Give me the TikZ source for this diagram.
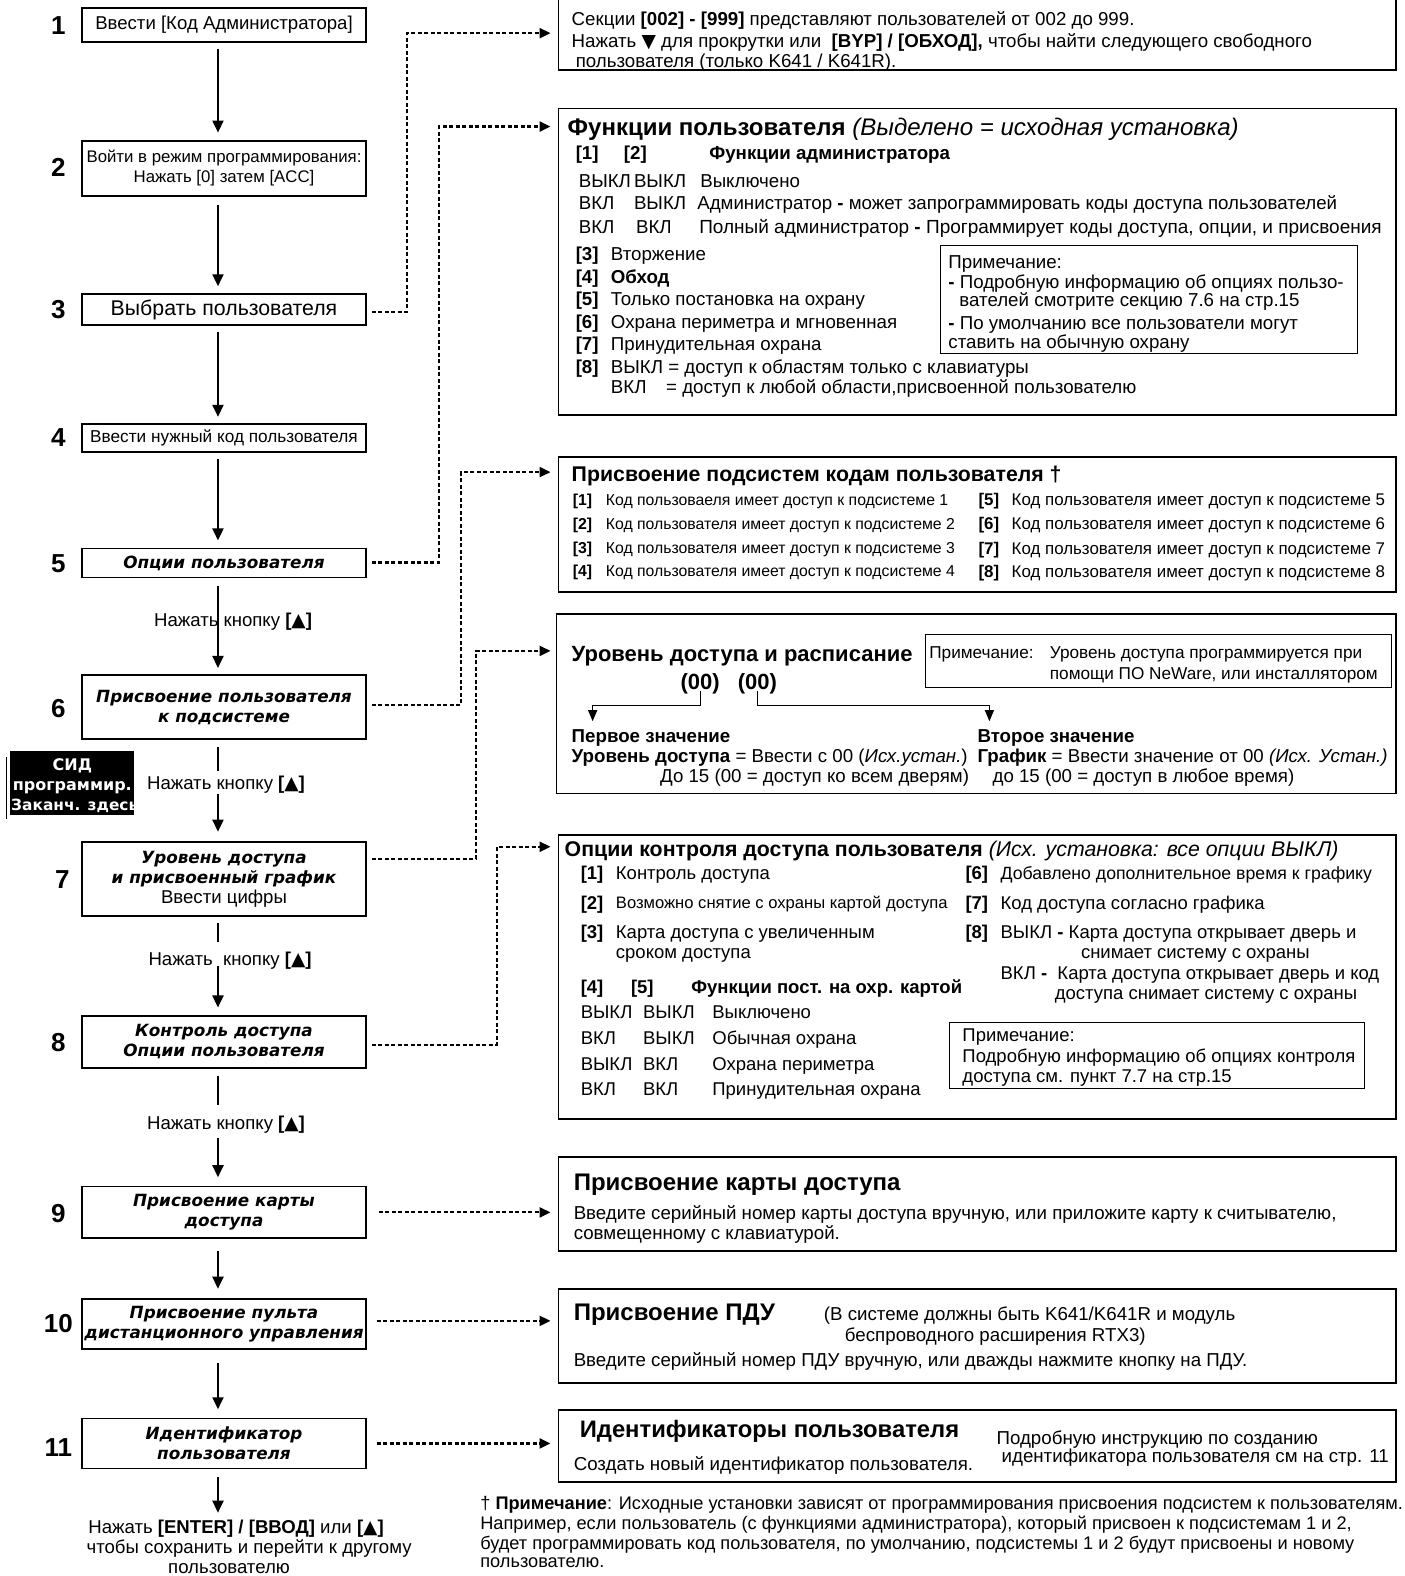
\documentclass[tikz,border=0pt]{standalone}
\usepackage{fontspec}
\setmainfont{Liberation Sans}
\newfontfamily\vfont{DejaVu Sans}
\usetikzlibrary{arrows.meta,fit}
\newcommand\fsz[2]{\fontsize{#1}{#2}\selectfont}
\newcommand\vbi{\vfont\bfseries\itshape\fsz{16.8}{20}}
\newcommand\vup{\normalfont\fsz{18.6}{20}}
\newcommand\tri{{\vfont\mdseries ▲}}
\newcommand\dtri{{\vfont ▼}}
\tikzset{
  stepbox/.style={draw, line width=1.8pt, minimum width=284pt, align=center, inner sep=0pt, font=\fsz{16.8}{20}},
  infobox/.style={draw, line width=1.9pt, inner sep=0pt},
  notebox/.style={draw, line width=0.9pt, inner sep=0pt},
  num/.style={font=\bfseries\fsz{26}{26}, inner sep=0pt},
  bw/.style={anchor=base west, inner sep=0pt},
  t/.style={bw, font=\fsz{18.7}{22}, yshift=-6.2pt},
  tb/.style={bw, font=\bfseries\fsz{18.7}{22}, yshift=-6.2pt},
  tc/.style={anchor=base, inner sep=0pt, font=\fsz{18.6}{22}, yshift=-6.1pt},
  ts/.style={bw, font=\fsz{15.8}{20}, yshift=-5.2pt},
  tsb/.style={bw, font=\bfseries\fsz{15.8}{20}, yshift=-5.2pt},
  tr/.style={bw, font=\fsz{16.9}{20}, yshift=-5.6pt},
  trb/.style={bw, font=\bfseries\fsz{16.9}{20}, yshift=-5.6pt},
  te/.style={bw, font=\fsz{18.5}{22}, yshift=-6.1pt},
  teb/.style={bw, font=\bfseries\fsz{18.5}{22}, yshift=-6.1pt},
  fn/.style={bw, font=\fsz{18.2}{22}, yshift=-6pt},
  ttl/.style={bw, font=\bfseries\fsz{24}{26}, yshift=-8pt},
  sidtxt/.style={text=white, font=\vfont\bfseries\fsz{16}{20}, inner sep=0pt},
  flow/.style={line width=2pt, -{Triangle[width=11pt,length=12pt]}},
  plain/.style={line width=2pt},
  dotarrow/.style={line width=2.2pt, dash pattern=on 4pt off 2.5pt, -{Triangle[width=10pt,length=11pt]}, shorten >=7pt},
  thinarrow/.style={line width=1.2pt, -{Triangle[width=9pt,length=11pt]}}
}
\begin{document}
\begin{tikzpicture}[x=1.0045pt,y=-1.0045pt]
\useasboundingbox (0,0) rectangle (1398.7,1569);

% ---------- step numbers ----------
\node[num] (n1) at (58,25) {1};
\node[num] (n2) at (58,167) {2};
\node[num] (n3) at (58,308) {3};
\node[num] (n4) at (58,436) {4};
\node[num] (n5) at (58,561) {5};
\node[num] (n6) at (58,705) {6};
\node[num] (n7) at (62,876) {7};
\node[num] (n8) at (58,1038) {8};
\node[num] (n9) at (58,1208) {9};
\node[num] (n10) at (58,1318) {10};
\node[num] (n11) at (58,1441) {11};

% ---------- step boxes ----------
\node[stepbox, minimum height=34pt, font=\fsz{18.6}{20}] (s1) at (223,25) {Ввести [Код Администратора]};
\node[stepbox, minimum height=55pt] (s2) at (223,167.5) {Войти в режим программирования:\\Нажать [0] затем [ACC]};
\node[stepbox, minimum height=31pt, font=\fsz{21.3}{22}] (s3) at (223,308.5) {Выбрать пользователя};
\node[stepbox, minimum height=28pt, font=\fsz{17.2}{20}] (s4) at (223,436) {Ввести нужный код пользователя};
\node[stepbox, minimum height=29pt] (s5) at (223,560.5) {\vbi Опции пользователя};
\node[stepbox, minimum height=64pt] (s6) at (223,704) {\vbi Присвоение пользователя\\\vbi к подсистеме};
\node[stepbox, minimum height=74pt] (s7) at (223,875) {\vbi Уровень доступа\\\vbi и присвоенный график\\\vup Ввести цифры};
\node[stepbox, minimum height=52pt] (s8) at (223,1037) {\vbi Контроль доступа\\\vbi Опции пользователя};
\node[stepbox, minimum height=52pt] (s9) at (223,1207) {\vbi Присвоение карты\\\vbi доступа};
\node[stepbox, minimum height=50pt] (s10) at (223,1318) {\vbi Присвоение пульта\\\vbi дистанционного управления};
\node[stepbox, minimum height=50pt] (s11) at (223,1437) {\vbi Идентификатор\\\vbi пользователя};

% ---------- flow arrows ----------
\draw[flow] (s1.south -| 217,0) ++(0,6) -- (217,132);
\draw[flow] (s2.south -| 217,0) ++(0,8) -- (217,285);
\draw[flow] (s3.south -| 217,0) ++(0,6) -- (217,415);
\draw[flow] (s4.south -| 217,0) ++(0,6) -- (217,538);
\draw[flow] (s5.south -| 217,0) ++(0,8) -- (217,665);
\node[tc] (l5) at (232,618) {Нажать кнопку \textbf{[\tri]}};
\draw[plain] (s6.south -| 217,0) ++(0,7) -- (217,768);
\node[tc] (l6) at (225,780) {Нажать кнопку \textbf{[\tri]}};
\draw[flow] (217,790) -- (217,828);
\draw[plain] (s7.south -| 217,0) ++(0,6) -- (217,938);
\node[tc] (l7) at (229,955) {Нажать \ кнопку \textbf{[\tri]}};
\draw[flow] (217,962) -- (217,1003);
\draw[plain] (s8.south -| 217,0) ++(0,7) -- (217,1100);
\node[tc] (l8) at (225,1118) {Нажать кнопку \textbf{[\tri]}};
\draw[flow] (217,1133) -- (217,1172);
\draw[flow] (s9.south -| 217,0) ++(0,12) -- (217,1283);
\draw[flow] (s10.south -| 217,0) ++(0,13) -- (217,1403);
\coordinate (endtxt) at (217,1506);
\draw[flow] (s11.south -| 217,0) ++(0,8) -- (endtxt);
\node[tc] (fin1) at (235,1521) {Нажать \textbf{[ENTER] / [ВВОД]} или \textbf{[\tri]}};
\node[tc] (fin2) at (248,1541) {чтобы сохранить и перейти к другому};
\node[tc] (fin3) at (228,1560) {пользователю};

% ---------- LED box ----------
\node[fill=black, minimum width=124pt, minimum height=64pt, inner sep=0pt] (sid) at (72,780) {};
\node[sidtxt, anchor=base] (sid1) at (72,767) {СИД};
\node[sidtxt, anchor=base] (sid2) at (72,787) {программир.};
\node[sidtxt, anchor=base west, font=\vfont\bfseries\fsz{15.4}{20}] (sid3) at (11,807) {Заканч. здесь};
\draw[line width=1pt] (6,754) -- (6,815);

% ---------- right boxes ----------
\node[infobox, fit={(556,-3) (1390,70)}] (A) {};
\node[infobox, fit={(556,108) (1390,413)}] (B) {};
\node[infobox, fit={(556,455) (1390,589)}] (C) {};
\node[infobox, fit={(554,611) (1390,790)}] (D) {};
\node[infobox, fit={(556,831) (1390,1114)}] (E) {};
\node[infobox, fit={(556,1152) (1390,1245)}] (F) {};
\node[infobox, fit={(556,1283) (1390,1377)}] (G) {};
\node[infobox, fit={(556,1404) (1390,1475)}] (H) {};

% ---------- dotted connectors ----------
\draw[dotarrow] (s3.east |- 0,311) ++(5,0) -| (405,33) -- (A.west |- 0,33);
\draw[dotarrow] (s5.east |- 0,560) ++(5,0) -| (437,126) -- (B.west |- 0,126);
\draw[dotarrow] (s6.east |- 0,702) ++(5,0) -| (459,470) -- (C.west |- 0,470);
\draw[dotarrow, shorten >=5pt] (s7.east |- 0,855) ++(5,0) -| (474,648) -- (D.west |- 0,648);
\draw[dotarrow] (s8.east |- 0,1040) ++(5,0) -| (495,843) -- (E.west |- 0,843);
\draw[dotarrow] (s9.east |- 0,1207) ++(12,0) -- (F.west |- 0,1207);
\draw[dotarrow] (s10.east |- 0,1315) ++(10,0) -- (G.west |- 0,1315);
\draw[dotarrow] (s11.east |- 0,1437) ++(10,0) -- (H.west |- 0,1437);

% ---------- A ----------
\node[t] (a1) at (569,19) {Секции \textbf{[002] - [999]} представляют пользователей от 002 до 999.};
\node[t] (a2) at (569,41) {Нажать \dtri{} для прокрутки или \ \textbf{[BYP] / [ОБХОД],} чтобы найти следующего свободного};
\node[t] (a3) at (573,61) {пользователя (только K641 / K641R).};

% ---------- B ----------
\node[ttl] (b0) at (565,127) {Функции пользователя \textmd{\textit{(Выделено = исходная установка)}}};
\node[tb] (b1a) at (573,153) {[1]};
\node[tb] (b1b) at (621,153) {[2]};
\node[tb] (b1c) at (706,153) {Функции администратора};
\node[t] (b2a) at (576,180) {ВЫКЛ};
\node[t] (b2b) at (631,180) {ВЫКЛ};
\node[t] (b2c) at (697,180) {Выключено};
\node[t] (b3a) at (576,202) {ВКЛ};
\node[t] (b3b) at (631,202) {ВЫКЛ};
\node[t] (b3c) at (694,202) {Администратор \textbf{-} может запрограммировать коды доступа пользователей};
\node[t] (b4a) at (576,226) {ВКЛ};
\node[t] (b4b) at (633,226) {ВКЛ};
\node[bw, font=\fsz{19}{22}, yshift=-6.3pt] (b4c) at (696,226) {Полный администратор \textbf{-} Программирует коды доступа, опции, и присвоения};
\node[tb] (b5a) at (573,253) {[3]};
\node[t] (b5b) at (608,253) {Вторжение};
\node[tb] (b6a) at (573,276) {[4]};
\node[tb] (b6b) at (608,276) {Обход};
\node[tb] (b7a) at (573,298) {[5]};
\node[t] (b7b) at (608,298) {Только постановка на охрану};
\node[tb] (b8a) at (573,321) {[6]};
\node[t] (b8b) at (608,321) {Охрана периметра и мгновенная};
\node[tb] (b9a) at (573,343) {[7]};
\node[t] (b9b) at (608,343) {Принудительная охрана};
\node[tb] (b10a) at (573,366) {[8]};
\node[t] (b10b) at (608,366) {ВЫКЛ = доступ к областям только с клавиатуры};
\node[t] (b11a) at (608,386) {ВКЛ};
\node[t] (b11b) at (663,386) {= доступ к любой области,присвоенной пользователю};
\node[notebox, fit={(936,244) (1351,352)}] (bn) {};
\node[t] (bn1) at (944,261) {Примечание:};
\node[t] (bn2) at (944,281) {\textbf{-} Подробную информацию об опциях пользо-};
\node[t] (bn3) at (955,299) {вателей смотрите секцию 7.6 на стр.15};
\node[t] (bn4) at (944,322) {\textbf{-} По умолчанию все пользователи могут};
\node[t] (bn5) at (944,341) {ставить на обычную охрану};

% ---------- C ----------
\node[bw, font=\bfseries\fsz{21.3}{24}, yshift=-7pt] (c0) at (569,472) {Присвоение подсистем кодам пользователя †};
\node[tsb] (c1a) at (570,498) {[1]};
\node[ts] (c1b) at (603,498) {Код пользоваеля имеет доступ к подсистеме 1};
\node[tsb] (c2a) at (570,522) {[2]};
\node[ts] (c2b) at (603,522) {Код пользователя имеет доступ к подсистеме 2};
\node[tsb] (c3a) at (570,546) {[3]};
\node[ts] (c3b) at (603,546) {Код пользователя имеет доступ к подсистеме 3};
\node[tsb] (c4a) at (570,569) {[4]};
\node[ts] (c4b) at (603,569) {Код пользователя имеет доступ к подсистеме 4};
\node[trb] (c5a) at (974,498) {[5]};
\node[tr] (c5b) at (1007,498) {Код пользователя имеет доступ к подсистеме 5};
\node[trb] (c6a) at (974,522) {[6]};
\node[tr] (c6b) at (1007,522) {Код пользователя имеет доступ к подсистеме 6};
\node[trb] (c7a) at (974,546) {[7]};
\node[tr] (c7b) at (1007,546) {Код пользователя имеет доступ к подсистеме 7};
\node[trb] (c8a) at (974,569) {[8]};
\node[tr] (c8b) at (1007,569) {Код пользователя имеет доступ к подсистеме 8};

% ---------- D ----------
\node[bw, font=\bfseries\fsz{22}{24}, yshift=-7.3pt] (d0) at (569,651) {Уровень доступа и расписание};
\node[anchor=base, inner sep=0pt, font=\bfseries\fsz{22}{24}, yshift=-7.3pt] (z1) at (697,679) {(00)};
\node[anchor=base, inner sep=0pt, font=\bfseries\fsz{22}{24}, yshift=-7.3pt] (z2) at (754,679) {(00)};
\node[notebox, fit={(921,632) (1385,684)}] (dn) {};
\node[bw, font=\fsz{17.2}{20}, yshift=-5.7pt] (dn1) at (925,650) {Примечание:};
\node[bw, font=\fsz{17.2}{20}, yshift=-5.7pt] (dn2) at (1045,650) {Уровень доступа программируется при};
\node[bw, font=\fsz{17.2}{20}, yshift=-5.7pt] (dn3) at (1045,671) {помощи ПО NeWare, или инсталлятором};
\node[tb] (d1) at (569,733) {Первое значение};
\node[tb] (d2) at (973,733) {Второе значение};
\node[t] (d3) at (569,753) {\textbf{Уровень доступа} = Ввести с 00 (\textit{Исх.устан.})};
\node[t] (d4) at (657,773) {До 15 (00 = доступ ко всем дверям)};
\node[t] (d5) at (973,753) {\textbf{График} = Ввести значение от 00 \textit{(Исх. Устан.)}};
\node[t] (d6) at (988,773) {до 15 (00 = доступ в любое время)};
\draw[thinarrow] (z1.south |- 0,688) |- (590,702) -- (590,718);
\draw[thinarrow] (z2.south |- 0,688) |- (985,702) -- (985,718);

% ---------- E ----------
\node[bw, font=\bfseries\fsz{21.3}{24}, yshift=-7pt] (e0) at (562,846) {Опции контроля доступа пользователя \textmd{\textit{(Исх. установка: все опции ВЫКЛ)}}};
\node[teb] (e1a) at (578,870) {[1]};
\node[te] (e1b) at (613,870) {Контроль доступа};
\node[teb] (e2a) at (578,899) {[2]};
\node[bw, font=\fsz{16.6}{20}, yshift=-5.5pt] (e2b) at (613,899) {Возможно снятие с охраны картой доступа};
\node[teb] (e3a) at (578,928) {[3]};
\node[te] (e3b) at (613,928) {Карта доступа с увеличенным};
\node[te] (e3c) at (613,948) {сроком доступа};
\node[teb] (e4a) at (578,983) {[4]};
\node[teb] (e4b) at (628,983) {[5]};
\node[teb] (e4c) at (688,983) {Функции пост. на охр. картой};
\node[te] (e5a) at (578,1008) {ВЫКЛ};
\node[te] (e5b) at (640,1008) {ВЫКЛ};
\node[te] (e5c) at (709,1008) {Выключено};
\node[te] (e6a) at (578,1034) {ВКЛ};
\node[te] (e6b) at (640,1034) {ВЫКЛ};
\node[te] (e6c) at (709,1034) {Обычная охрана};
\node[te] (e7a) at (578,1060) {ВЫКЛ};
\node[te] (e7b) at (640,1060) {ВКЛ};
\node[te] (e7c) at (709,1060) {Охрана периметра};
\node[te] (e8a) at (578,1085) {ВКЛ};
\node[te] (e8b) at (640,1085) {ВКЛ};
\node[te] (e8c) at (709,1085) {Принудительная охрана};
\node[teb] (e9a) at (961,870) {[6]};
\node[bw, font=\fsz{17.7}{20}, yshift=-5.8pt] (e9b) at (996,870) {Добавлено дополнительное время к графику};
\node[teb] (e10a) at (961,899) {[7]};
\node[te] (e10b) at (996,899) {Код доступа согласно графика};
\node[teb] (e11a) at (961,928) {[8]};
\node[te] (e11b) at (996,928) {ВЫКЛ \textbf{-} Карта доступа открывает дверь и};
\node[te] (e11c) at (1076,948) {снимает систему с охраны};
\node[te] (e12a) at (996,969) {ВКЛ \textbf{-} \ Карта доступа открывает дверь и код};
\node[te] (e12b) at (1050,989) {доступа снимает систему с охраны};
\node[notebox, fit={(945,1018) (1358,1084)}] (en) {};
\node[te] (en1) at (958,1031) {Примечание:};
\node[te] (en2) at (958,1052) {Подробную информацию об опциях контроля};
\node[te] (en3) at (958,1072) {доступа см. пункт 7.7 на стр.15};

% ---------- F ----------
\node[ttl] (f0) at (571,1177) {Присвоение карты доступа};
\node[t] (f1) at (571,1208) {Введите серийный номер карты доступа вручную, или приложите карту к считывателю,};
\node[t] (f2) at (571,1228) {совмещенному с клавиатурой.};

% ---------- G ----------
\node[ttl] (g0) at (571,1307) {Присвоение ПДУ};
\node[t] (g1) at (820,1308) {(В системе должны быть K641/K641R и модуль};
\node[t] (g2) at (841,1329) {беспроводного расширения RTX3)};
\node[t] (g3) at (571,1354) {Введите серийный номер ПДУ вручную, или дважды нажмите кнопку на ПДУ.};

% ---------- H ----------
\node[bw, font=\bfseries\fsz{23.8}{26}, yshift=-8pt] (h0) at (577,1423) {Идентификаторы пользователя};
\node[t] (h1) at (571,1458) {Создать новый идентификатор пользователя.};
\node[t] (h2) at (992,1432) {Подробную инструкцию по созданию};
\node[t] (h3) at (997,1450) {идентификатора пользователя см на стр. 11};

% ---------- footnote ----------
\node[fn] (fn1) at (478,1497) {† \textbf{Примечание}: Исходные установки зависят от программирования присвоения подсистем к пользователям.};
\node[fn] (fn2) at (478,1517) {Например, если пользователь (с функциями администратора), который присвоен к подсистемам 1 и 2,};
\node[fn] (fn3) at (478,1537) {будет программировать код пользователя, по умолчанию, подсистемы 1 и 2 будут присвоены и новому};
\node[fn] (fn4) at (478,1555) {пользователю.};
\end{tikzpicture}
\end{document}
